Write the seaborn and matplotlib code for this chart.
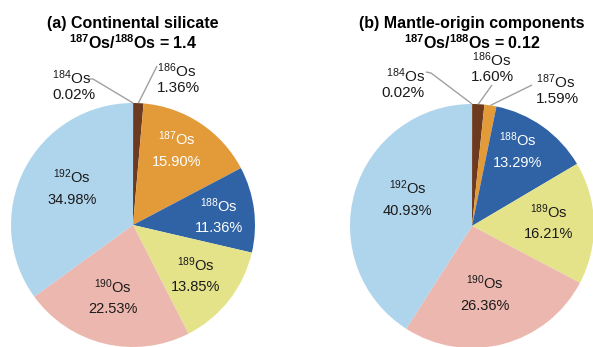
import numpy as np
import matplotlib
matplotlib.use("Agg")
import matplotlib.pyplot as plt
import seaborn as sns

# Osmium isotope abundances (%), clockwise from 12 o'clock
isotopes = ["184", "186", "187", "188", "189", "190", "192"]
continental = [0.02, 1.36, 15.90, 11.36, 13.85, 22.53, 34.98]
mantle = [0.02, 1.60, 1.59, 13.29, 16.21, 26.36, 40.93]
titles = ["(a) Continental silicate", "(b) Mantle-origin components"]
ratios = ["1.4", "0.12"]

sns.set_theme(style="white")
plt.rcParams["font.family"] = ["Liberation Sans", "DejaVu Sans"]
plt.rcParams["mathtext.fontset"] = "custom"
plt.rcParams["mathtext.rm"] = "Liberation Sans"
plt.rcParams["mathtext.bf"] = "Liberation Sans:bold"
plt.rcParams["mathtext.it"] = "Liberation Sans:italic"

palette = sns.color_palette(["#9a9a9a", "#6d3a1f", "#e39b3a", "#2f63a5",
                             "#e4e38a", "#ecb7af", "#afd5ed"])
text_colors = ["#1a1a1a", "#1a1a1a", "white", "white", "#1a1a1a", "#1a1a1a", "#1a1a1a"]
LEADER = "#a0a0a0"

W, H = 593, 347
fig = plt.figure(figsize=(W / 100, H / 100), dpi=100)
ax = fig.add_axes([0, 0, 1, 1])


def Y(y):
    return H - y


def iso(mass, bold=False):
    if bold:
        return r"$^{\mathbf{%s}}$Os" % mass
    return r"$^{%s}$Os" % mass


def draw_pie(values, cx, cy, r, inner, outer, title, ratio):
    wedges, _ = ax.pie(values, colors=palette, startangle=90, counterclock=False,
                       center=(cx, Y(cy)), radius=r,
                       wedgeprops=dict(linewidth=0))
    mids = {}
    for i, w in enumerate(wedges):
        mids[i] = np.deg2rad((w.theta1 + w.theta2) / 2)
    # labels inside the larger wedges (angle offset in degrees, clockwise)
    for i, (frac, dang) in inner.items():
        a = mids[i] - np.deg2rad(dang)
        x = cx + frac * r * np.cos(a)
        y = Y(cy) + frac * r * np.sin(a)
        ax.text(x, y + 11.5, iso(isotopes[i]), ha="center", va="center",
                fontsize=10.5, color=text_colors[i])
        ax.text(x, y - 11.5, f"{values[i]:.2f}%", ha="center", va="center",
                fontsize=10.5, color=text_colors[i])
    # labels outside the thin wedges, with leader lines
    for i, (tx, ty, ha, path) in outer.items():
        a = mids[i]
        ex = cx + r * np.cos(a)
        ey = Y(cy) + r * np.sin(a)
        xs = [p[0] for p in path] + [ex]
        ys = [Y(p[1]) for p in path] + [ey]
        ax.plot(xs, ys, color=LEADER, lw=1.0, solid_capstyle="butt")
        ax.text(tx, Y(ty), iso(isotopes[i]), ha=ha, va="center",
                fontsize=11, color="#1a1a1a")
        ax.text(tx, Y(ty + 17), f"{values[i]:.2f}%", ha=ha, va="center",
                fontsize=11, color="#1a1a1a")
    ax.text(cx, Y(23), title, ha="center", va="center", fontsize=11.5,
            fontweight="bold", color="black")
    ax.text(cx, Y(43), iso("187", True) + "/" + iso("188", True) + " = " + ratio,
            ha="center", va="center", fontsize=11.5, fontweight="bold", color="black")


draw_pie(continental, 133, 225, 122,
         inner={2: (0.71, -3), 3: (0.71, 2), 4: (0.66, 1), 5: (0.62, 2), 6: (0.58, 4)},
         outer={0: (52, 78, "left", [(88, 79), (93, 79)]),
                1: (157, 71, "left", [(157, 66)])},
         title=titles[0], ratio=ratios[0])

draw_pie(mantle, 472, 226, 122,
         inner={3: (0.72, -4), 4: (0.63, -1), 5: (0.57, 4), 6: (0.57, 6)},
         outer={0: (425, 76, "right", [(426, 72), (431, 73)]),
                1: (492, 60, "center", [(492, 85)]),
                2: (536, 82, "left", [(532, 85)])},
         title=titles[1], ratio=ratios[1])

ax.set_xlim(0, W)
ax.set_ylim(0, H)
ax.set_aspect("equal")
ax.axis("off")

fig.savefig("out.png", dpi=100, facecolor="white")
